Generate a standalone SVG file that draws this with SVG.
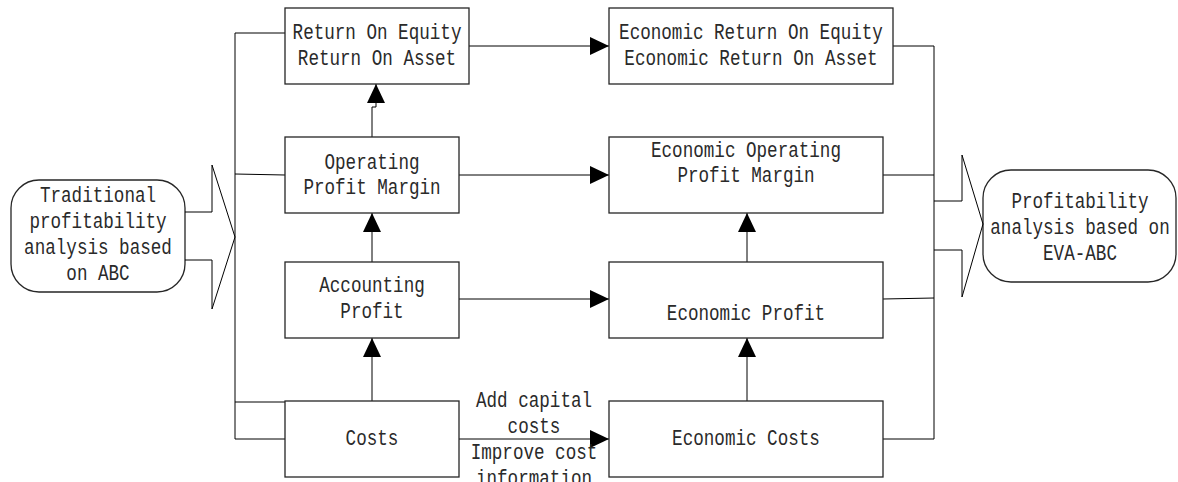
<svg xmlns="http://www.w3.org/2000/svg" width="1178" height="482" viewBox="0 0 1178 482">
<style>
.box{fill:#fff;stroke:#262626;stroke-width:1.3}
.ln{fill:none;stroke:#000;stroke-width:1}
.ar{fill:none;stroke:#000;stroke-width:1;marker-end:url(#ah)}
.t{font-family:"Liberation Mono","DejaVu Sans Mono",monospace;font-size:17.6px;text-anchor:middle;fill:#2a2a2a}
</style>
<defs>
<marker id="ah" markerUnits="userSpaceOnUse" markerWidth="19" markerHeight="18" refX="19" refY="9" orient="auto">
<path d="M0,0 L19,9 L0,18 z" fill="#000"/>
</marker>
</defs>
<rect width="1178" height="482" fill="#fff"/>
<g id="connectors">
<path class="ln" d="M285,33 H235 V439 H285 M235,174 L285,175 M235,402 H285"/>
<path class="ln" d="M893,46 H934 V439 H883 M883,175 H934 M883,299 L934,298"/>
<path class="ar" d="M469,46 H609"/>
<path class="ar" d="M459,175 H609"/>
<path class="ar" d="M459,299 H609"/>
<path class="ar" d="M459,439 H609"/>
<path class="ar" d="M372,137 V107 H376 V84"/>
<path class="ar" d="M372,262 V213"/>
<path class="ar" d="M372,401 V338"/>
<path class="ar" d="M747,262 V213"/>
<path class="ar" d="M747,401 V338"/>
<text class="t" transform="translate(534 407) scale(1 1.25)">Add capital</text>
<text class="t" transform="translate(534 433) scale(1 1.25)">costs</text>
<text class="t" transform="translate(534 459) scale(1 1.25)">Improve cost</text>
<text class="t" transform="translate(534 485) scale(1 1.25)">information</text>
</g>
<g id="traditional">
<rect class="box" x="11" y="180" width="174" height="112" rx="28"/>
<path class="ln" d="M185,212 H212 V165 L235,237 L212,309 V260 H185"/>
<text class="t" transform="translate(98 202) scale(1 1.25)">Traditional</text>
<text class="t" transform="translate(98 228) scale(1 1.25)">profitability</text>
<text class="t" transform="translate(98 254) scale(1 1.25)">analysis based</text>
<text class="t" transform="translate(98 280) scale(1 1.25)">on ABC</text>
</g>
<g id="eva-abc">
<rect class="box" x="983" y="170" width="193" height="112" rx="28"/>
<path class="ln" d="M934,201 H962 V155 L983,224 L962,297 V250 H934"/>
<text class="t" transform="translate(1080 208) scale(1 1.25)">Profitability</text>
<text class="t" transform="translate(1080 234) scale(1 1.25)">analysis based on</text>
<text class="t" transform="translate(1080 260) scale(1 1.25)">EVA-ABC</text>
</g>
<g id="roe">
<rect class="box" x="285" y="8" width="184" height="76"/>
<text class="t" transform="translate(377 39) scale(1 1.25)">Return On Equity</text>
<text class="t" transform="translate(377 65) scale(1 1.25)">Return On Asset</text>
</g>
<g id="eroe">
<rect class="box" x="609" y="8" width="284" height="76"/>
<text class="t" transform="translate(751 39) scale(1 1.25)">Economic Return On Equity</text>
<text class="t" transform="translate(751 65) scale(1 1.25)">Economic Return On Asset</text>
</g>
<g id="opm">
<rect class="box" x="285" y="137" width="174" height="76"/>
<text class="t" transform="translate(372 169) scale(1 1.25)">Operating</text>
<text class="t" transform="translate(372 194) scale(1 1.25)">Profit Margin</text>
</g>
<g id="eopm">
<rect class="box" x="609" y="137" width="274" height="76"/>
<text class="t" transform="translate(746 157) scale(1 1.25)">Economic Operating</text>
<text class="t" transform="translate(746 182) scale(1 1.25)">Profit Margin</text>
</g>
<g id="ap">
<rect class="box" x="285" y="262" width="174" height="76"/>
<text class="t" transform="translate(372 292) scale(1 1.25)">Accounting</text>
<text class="t" transform="translate(372 318) scale(1 1.25)">Profit</text>
</g>
<g id="ep">
<rect class="box" x="609" y="262" width="274" height="76"/>
<text class="t" transform="translate(746 320) scale(1 1.25)">Economic Profit</text>
</g>
<g id="costs">
<rect class="box" x="285" y="401" width="174" height="76"/>
<text class="t" transform="translate(372 445) scale(1 1.25)">Costs</text>
</g>
<g id="ec">
<rect class="box" x="609" y="401" width="274" height="76"/>
<text class="t" transform="translate(746 445) scale(1 1.25)">Economic Costs</text>
</g>
</svg>
